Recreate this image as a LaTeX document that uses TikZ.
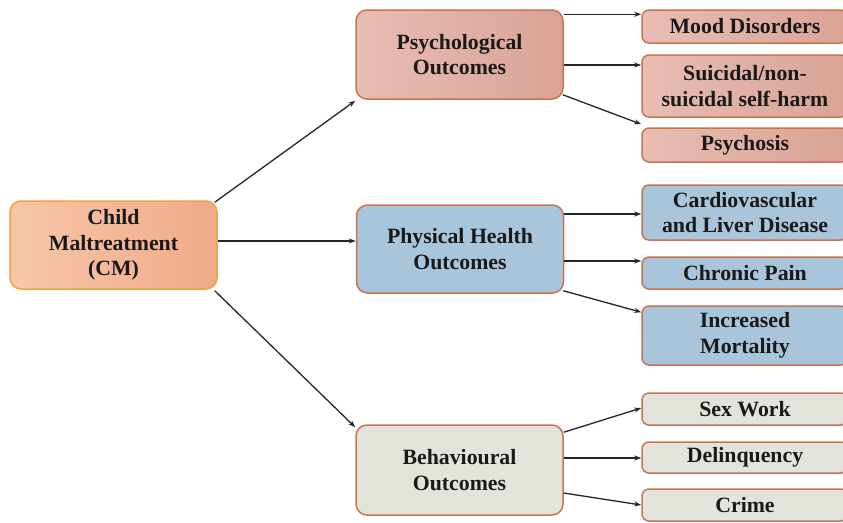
\documentclass[tikz,border=0pt]{standalone}
\usepackage{fontspec}
\setmainfont{Liberation Serif}
\usetikzlibrary{arrows.meta}
\definecolor{cmA}{HTML}{F7C6A9}
\definecolor{cmB}{HTML}{F0AB88}
\definecolor{cmE}{HTML}{F2A33E}
\definecolor{psA}{HTML}{E8BDB3}
\definecolor{psB}{HTML}{D9A395}
\definecolor{phF}{HTML}{A9C5DC}
\definecolor{bhF}{HTML}{E2E4DC}
\definecolor{edg}{HTML}{C9744F}
\tikzset{
  box/.style={draw=edg, line width=1.5pt, rounded corners=11pt, align=center,
    font=\fontsize{21.8}{25.5}\selectfont\bfseries, inner sep=0pt, text=black!90},
  bigbox/.style={box, minimum width=207pt},
  smallbox/.style={box, rounded corners=7pt, minimum width=206pt},
  cmfill/.style={left color=cmA, right color=cmB, draw=cmE},
  psfill/.style={left color=psA, right color=psB},
  phfill/.style={fill=phF},
  bhfill/.style={fill=bhF},
  arr/.style={-{Stealth[length=7pt,width=5pt]}, line width=1.3pt, black!85}
}
\begin{document}
\begin{tikzpicture}[x=1pt,y=-1pt]
\useasboundingbox (0,0) rectangle (843,522);
\clip (0,0) rectangle (843,522);
\fill[white] (0,0) rectangle (843,522);
% main nodes
\node[bigbox, cmfill, minimum height=88pt] (cm) at (113.5,245) {Child\\Maltreatment\\(CM)};
\node[bigbox, psfill, minimum height=89pt] (psy) at (459.5,54.5) {Psychological\\Outcomes};
\node[bigbox, phfill, minimum height=88pt] (phy) at (460,249) {Physical Health\\Outcomes};
\node[bigbox, bhfill, minimum height=90pt] (beh) at (459.5,470) {Behavioural\\Outcomes};
% psychological outcomes
\node[smallbox, psfill, minimum height=33pt] (mood) at (745,26.5) {Mood Disorders};
\node[smallbox, psfill, minimum height=62pt] (sui) at (745,86) {Suicidal/non-\\suicidal self-harm};
\node[smallbox, psfill, minimum height=34pt] (psyc) at (745,145) {Psychosis};
% physical outcomes
\node[smallbox, phfill, minimum height=55pt] (card) at (745,212.5) {Cardiovascular\\and Liver Disease};
\node[smallbox, phfill, minimum height=32pt] (pain) at (745,273) {Chronic Pain};
\node[smallbox, phfill, minimum height=59pt] (mort) at (745,335.5) {Increased\\Mortality};
% behavioural outcomes
\node[smallbox, bhfill, minimum height=32pt] (sex) at (745,409) {Sex Work};
\node[smallbox, bhfill, minimum height=31pt] (del) at (745,457.5) {Delinquency};
\node[smallbox, bhfill, minimum height=32pt] (crime) at (745,505) {Crime};
% connectors from CM
\draw[arr] ([xshift=-3pt,yshift=-2pt]cm.north east) -- ([yshift=-1pt]psy.south west);
\draw[arr] ([yshift=4pt]cm.east) -- ([yshift=4pt]cm.east -| phy.west);
\draw[arr] ([xshift=-3pt,yshift=-1pt]cm.south east) -- ([yshift=-3pt]beh.north west);
% connectors from psychological
\draw[arr] ([yshift=-5pt]psy.north east) -- ([yshift=-5pt]psy.north east -| mood.west);
\draw[arr] ([yshift=-10.5pt]psy.east) -- ([yshift=-10.5pt]psy.east -| sui.west);
\draw[arr] ([xshift=-1pt,yshift=5pt]psy.south east) -- ([yshift=3pt]psyc.north west);
% connectors from physical
\draw[arr] ([yshift=35pt]phy.east) -- ([yshift=35pt]phy.east -| card.west);
\draw[arr] ([yshift=-12pt]phy.east) -- ([yshift=-12pt]phy.east -| pain.west);
\draw[arr] ([xshift=-1pt,yshift=3pt]phy.south east) -- ([yshift=-7pt]mort.north west);
% connectors from behavioural
\draw[arr] ([yshift=-8pt]beh.north east) -- ([yshift=1pt]sex.west);
\draw[arr] ([yshift=12pt]beh.east) -- ([yshift=12pt]beh.east -| del.west);
\draw[arr] ([yshift=-23pt]beh.east) -- (crime.west);
\end{tikzpicture}
\end{document}
